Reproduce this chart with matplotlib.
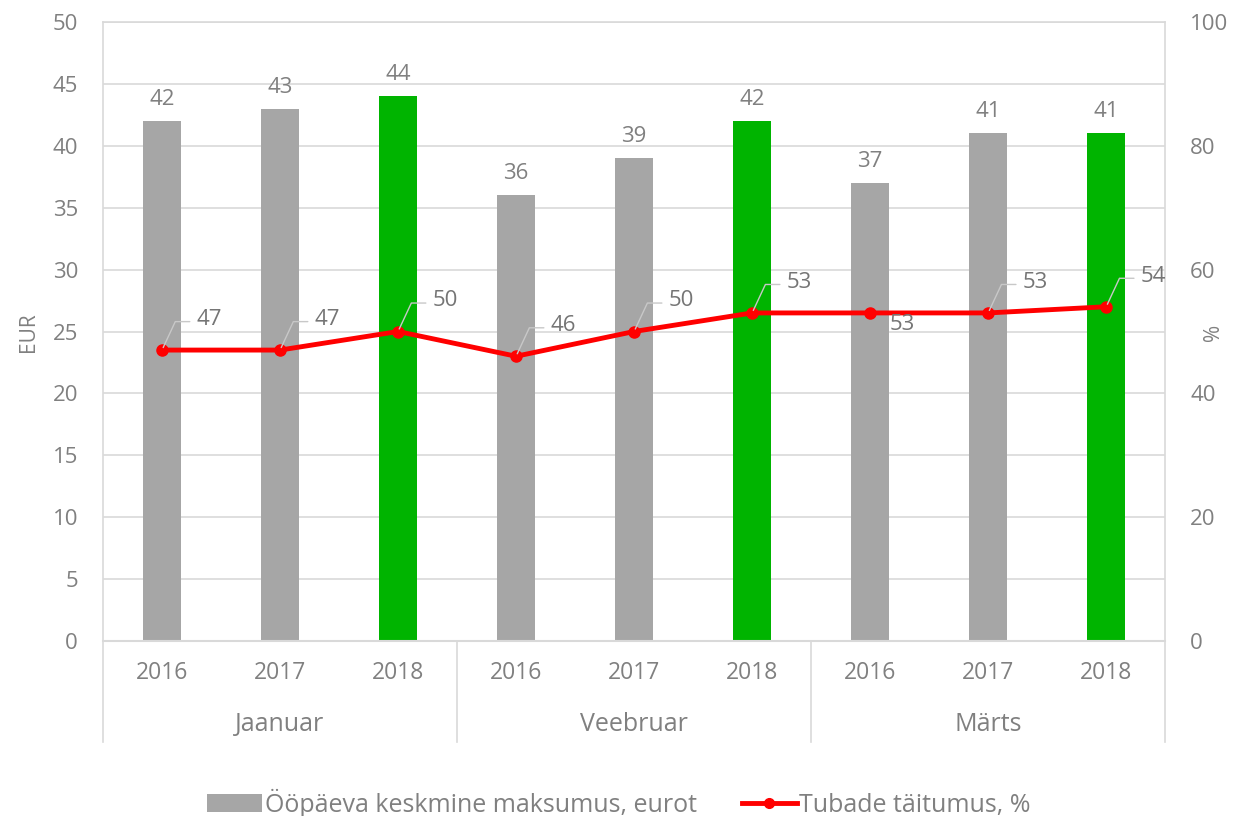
import matplotlib
matplotlib.use('Agg')
import matplotlib.pyplot as plt
import numpy as np
from matplotlib.patches import Patch
from matplotlib.lines import Line2D

plt.rcParams['font.family'] = ['Open Sans', 'DejaVu Sans']

# Data
months = ['Jaanuar', 'Veebruar', 'Märts']
years = ['2016', '2017', '2018']
price = [42, 43, 44, 36, 39, 42, 37, 41, 41]
occupancy = [47, 47, 50, 46, 50, 53, 53, 53, 54]
bar_label = 'Ööpäeva keskmine maksumus, eurot'
line_label = 'Tubade täitumus, %'

GREY = '#a6a6a6'
GREEN = '#00b400'
RED = '#ff0000'
TXT = '#808080'
GRID = '#d9d9d9'

n = len(price)
x = np.arange(n)
colors = [GREEN if i % 3 == 2 else GREY for i in range(n)]

fig = plt.figure(figsize=(12.38, 8.16), dpi=100)
ax = fig.add_axes([0.0832, 0.2145, 0.8580, 0.7585])
ax2 = ax.twinx()

bars = ax.bar(x, price, width=0.32, color=colors, zorder=2)
ax.set_xlim(-0.5, n - 0.5)
ax.set_ylim(0, 50)
ax.set_yticks(range(0, 51, 5))
ax.yaxis.grid(True, color=GRID, linewidth=1.2, zorder=0)
ax.set_axisbelow(True)
ax.tick_params(axis='y', length=0, labelsize=16, labelcolor=TXT, pad=18)
ax.set_xticks([])

for a in (ax, ax2):
    for s in a.spines.values():
        s.set_visible(False)

for b, v in zip(bars, price):
    ax.annotate(str(v), (b.get_x() + b.get_width() / 2, v), xytext=(0, 8),
                textcoords='offset points', ha='center', va='bottom',
                fontsize=16, color=TXT)

ax2.set_ylim(0, 100)
ax2.set_yticks(range(0, 101, 20))
ax2.tick_params(axis='y', length=0, labelsize=16, labelcolor=TXT, pad=18)
ax2.plot(x, occupancy, color=RED, linewidth=3.5, marker='o', markersize=8,
         zorder=4, label=line_label)

fig.text(28 / 1238, 1 - 332 / 816, 'EUR', rotation=90, ha='center', va='center',
         fontsize=15, color=TXT)
fig.text(1213 / 1238, 1 - 332 / 816, '%', rotation=90, ha='center', va='center',
         fontsize=15, color=TXT)

for i, v in enumerate(occupancy):
    if i == 6:
        ax2.annotate(str(v), (x[i], v), xytext=(14, -8), textcoords='offset points',
                     ha='left', va='center', fontsize=16, color='#757575', zorder=5)
        continue
    ax2.annotate(str(v), (x[i], v), xytext=(25, 22), textcoords='offset points',
                 ha='left', va='center', fontsize=16, color='#757575', zorder=5,
                 arrowprops=dict(arrowstyle='-', color='#c8c8c8', lw=1,
                                 shrinkA=3, shrinkB=2, relpos=(0, 0.4),
                                 connectionstyle='angle,angleA=180,angleB=65,rad=0'))

# frame and category axis lines
trans = ax.get_xaxis_transform()
ax.plot([-0.5, n - 0.5], [1, 1], transform=trans, color=GRID, lw=1.2, clip_on=False)
ax.plot([-0.5, n - 0.5], [0, 0], transform=trans, color=GRID, lw=1.5, clip_on=False)
for xv in [-0.5, 2.5, 5.5, 8.5]:
    top = 1 if xv in (-0.5, 8.5) else 0
    ax.plot([xv, xv], [-0.163, top], transform=trans, color=GRID, lw=1.2, clip_on=False)

for i in range(n):
    ax.text(x[i], -0.052, years[i % 3], transform=trans, ha='center', va='center',
            fontsize=16.5, color=TXT)
for j, m in enumerate(months):
    ax.text(3 * j + 1, -0.135, m, transform=trans, ha='center', va='center',
            fontsize=18, color=TXT)

# legend
handles = [Patch(facecolor=GREY, label=bar_label),
           Line2D([0], [0], color=RED, lw=3.5, marker='o', markersize=7, label=line_label)]
fig.legend(handles=handles, loc='center', bbox_to_anchor=(0.5, 0.016), ncol=2,
           frameon=False, fontsize=18, labelcolor=TXT, handlelength=2.2,
           handletextpad=0.1, columnspacing=1.8)

plt.savefig('out.png', dpi=100)
